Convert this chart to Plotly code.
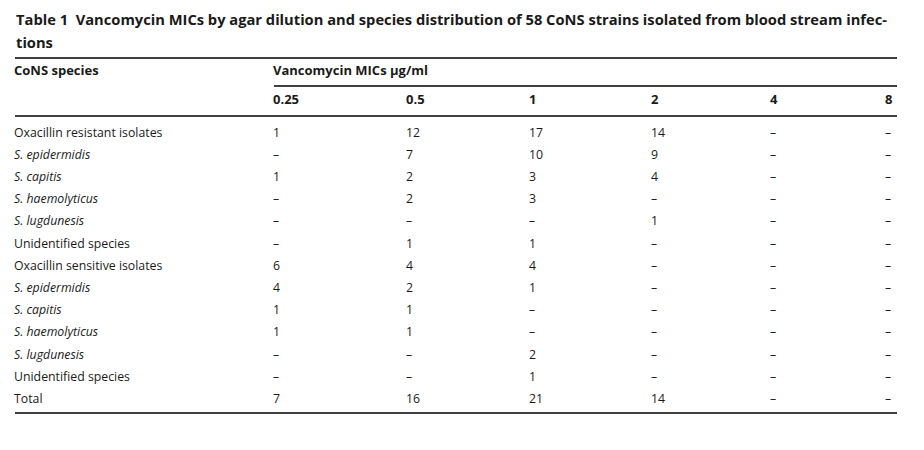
import plotly.graph_objects as go

# ---- table content ----
title_lines = [
    "Table 1  Vancomycin MICs by agar dilution and species distribution of 58 CoNS strains isolated from blood stream infec-",
    "tions",
]
row_header = "CoNS species"
group_header = "Vancomycin MICs µg/ml"
mic_labels = ["0.25", "0.5", "1", "2", "4", "8"]

species = [
    "Oxacillin resistant isolates", "S. epidermidis", "S. capitis", "S. haemolyticus",
    "S. lugdunesis", "Unidentified species",
    "Oxacillin sensitive isolates", "S. epidermidis", "S. capitis", "S. haemolyticus",
    "S. lugdunesis", "Unidentified species", "Total",
]
italic = [False, True, True, True, True, False,
          False, True, True, True, True, False, False]

# None = no isolates (printed as a dash)
mic_025 = [1, None, 1, None, None, None, 6, 4, 1, 1, None, None, 7]
mic_05 = [12, 7, 2, 2, None, 1, 4, 2, 1, 1, None, None, 16]
mic_1 = [17, 10, 3, 3, None, 1, 4, 1, None, None, 2, 1, 21]
mic_2 = [14, 9, 4, None, 1, None, None, None, None, None, None, None, 14]
mic_4 = [None] * 13
mic_8 = [None] * 13
columns = [mic_025, mic_05, mic_1, mic_2, mic_4, mic_8]

# ---- layout constants (page pixel coordinates) ----
PAGE_OFF = 8          # default body margin of the html page
W, H = 924 - PAGE_OFF, 450 - PAGE_OFF
LEFT, RIGHT = 14, 897
col_x = [273, 406, 529, 651, 770, 885]
row0_y, row_step = 133.5, 22.2
INK = "#1a1a1a"
BODY = dict(family="Open Sans", size=12.3, color=INK)
BOLD = dict(family="Open Sans", size=13, color=INK, weight="bold")

fig = go.Figure()

row_y = [row0_y + i * row_step for i in range(len(species))]

labels = [f"<i>{s}</i>" if it else s for s, it in zip(species, italic)]
fig.add_trace(go.Scatter(
    x=[LEFT] * len(species), y=row_y, text=labels, mode="text",
    textposition="middle right", textfont=BODY, hoverinfo="skip"))

for cx, vals in zip(col_x, columns):
    txt = ["–" if v is None else str(v) for v in vals]
    fig.add_trace(go.Scatter(
        x=[cx] * len(vals), y=row_y, text=txt, mode="text",
        textposition="middle right", textfont=BODY, hoverinfo="skip"))

# header rows
fig.add_trace(go.Scatter(
    x=[LEFT, col_x[0]], y=[72, 72], text=[row_header, group_header], mode="text",
    textposition="middle right", textfont=BOLD, hoverinfo="skip"))
fig.add_trace(go.Scatter(
    x=col_x, y=[101] * len(col_x), text=mic_labels, mode="text",
    textposition="middle right", textfont=BOLD, hoverinfo="skip"))

# title
for i, line in enumerate(title_lines):
    fig.add_annotation(x=LEFT, y=19 + i * 23, xref="x", yref="y", text=line,
                       showarrow=False, xanchor="left", yanchor="middle",
                       font=dict(family="Open Sans", size=14.7, color=INK, weight="bold"))

# rules
rule = dict(color="black", width=1.3)
for y0, x0 in [(58, LEFT + 1), (86, col_x[0] + 1), (116, LEFT + 1), (413, LEFT + 1)]:
    fig.add_shape(type="line", x0=x0, x1=RIGHT, y0=y0, y1=y0,
                  xref="x", yref="y", line=rule)

fig.update_xaxes(range=[PAGE_OFF, PAGE_OFF + W], visible=False, fixedrange=True)
fig.update_yaxes(range=[PAGE_OFF + H, PAGE_OFF], visible=False, fixedrange=True)
fig.update_layout(width=W, height=H, margin=dict(l=0, r=0, t=0, b=0),
                  showlegend=False, plot_bgcolor="white", paper_bgcolor="white")

fig.write_html("out.html")
